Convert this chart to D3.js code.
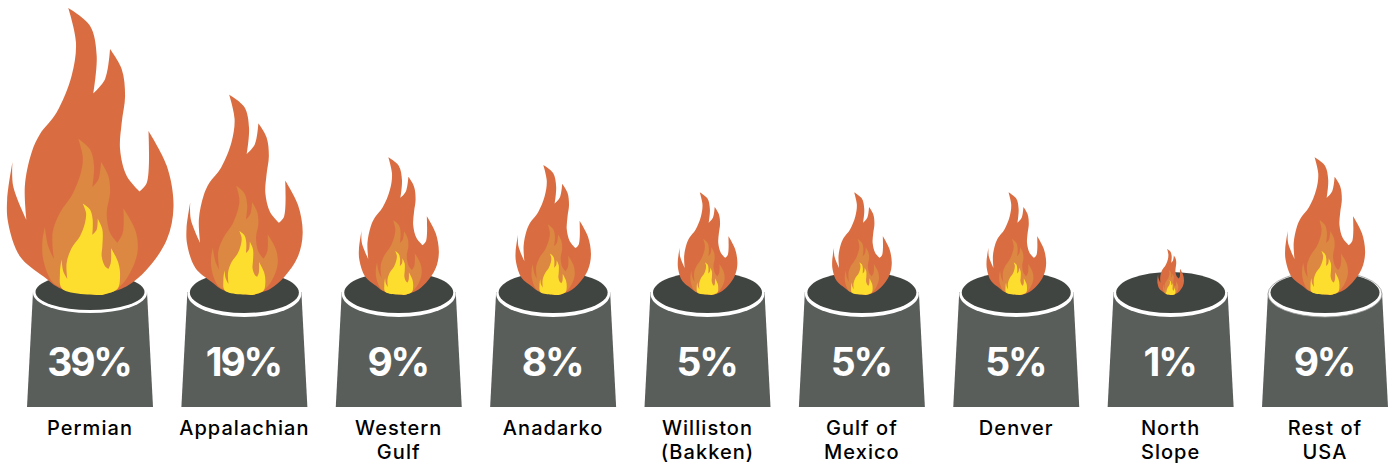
<!DOCTYPE html>
<html><head><meta charset="utf-8">
<script src="https://cdn.jsdelivr.net/npm/d3@7"></script>
<style>html,body{margin:0;padding:0;background:#fff}svg{display:block}</style></head>
<body><div id="c"></div>
<script>
const categories=[["Permian"],["Appalachian"],["Western","Gulf"],["Anadarko"],["Williston","(Bakken)"],["Gulf of","Mexico"],["Denver"],["North","Slope"],["Rest of","USA"]];
const shares=[39,19,9,8,5,5,5,1,9];

// Flame glyphs: smooth runs between cusps, in glyph units (base tip near 0,0; height 859)
const outerRuns=[
 [[35,0],[-85,-18],[-140,-56],[-210,-116],[-245,-216],[-248,-286],[-232,-398]],
 [[-232,-398],[-230,-326],[-190,-224]],
 [[-190,-224],[-195,-326],[-175,-426],[-150,-481],[-100,-546],[-55,-656],[-42,-756],[-65,-859]],
 [[-65,-859],[0,-806],[20,-716],[10,-604]],
 [[10,-604],[45,-646],[60,-736]],
 [[60,-736],[95,-676],[105,-596],[95,-516],[90,-436],[110,-356],[148,-310]],
 [[148,-310],[170,-336],[175,-491]],
 [[175,-491],[230,-386],[250,-266],[230,-166],[170,-76],[110,-26],[35,0]]];
const midRuns=[
 [[35,0],[-60,-16],[-110,-36],[-140,-106],[-142,-166],[-135,-203]],
 [[-135,-203],[-125,-146],[-108,-108]],
 [[-108,-108],[-112,-186],[-90,-246],[-50,-306],[-25,-376],[-22,-416],[-35,-468]],
 [[-35,-468],[0,-436],[12,-386],[7,-324]],
 [[7,-324],[25,-346],[33,-399]],
 [[33,-399],[55,-356],[60,-306],[50,-246],[60,-186],[82,-156]],
 [[82,-156],[98,-186],[100,-259]],
 [[100,-259],[135,-196],[143,-136],[125,-76],[90,-26],[35,0]]];
const coreRuns=[
 [[35,0],[-83,-18],[-90,-66],[-85,-106]],
 [[-85,-106],[-80,-71],[-68,-48]],
 [[-68,-48],[-70,-96],[-55,-141],[-30,-176],[-15,-216],[-12,-246],[-22,-274]],
 [[-22,-274],[0,-256],[8,-226],[7,-180]],
 [[7,-180],[20,-196],[23,-229]],
 [[23,-229],[37,-196],[37,-146],[35,-116],[45,-86],[55,-78]],
 [[55,-78],[62,-96],[63,-141]],
 [[63,-141],[85,-96],[90,-56],[82,-18],[35,0]]];
const GLYPH_H=859;

const W=1388,H=463;
const svg=d3.select("#c").append("svg").attr("width",W).attr("height",H);
const x=d3.scalePoint().domain(d3.range(categories.length)).range([90,1325]);
const flameH=d3.scaleSqrt().domain([0,39]).range([0,287]);
const seg=d3.line().curve(d3.curveCatmullRom.alpha(0.5));
const glyph=runs=>runs.map((r,i)=>{const s=seg(r);return i?s.replace(/^M[^C]*/,""):s}).join("")+"Z";
const FLOOR=407,RIM=292,TIPY=295;
const g=svg.selectAll("g.b").data(shares).join("g").attr("class","b").attr("transform",(d,i)=>`translate(${x(i)},0)`);
g.append("path").attr("d",`M-57,${RIM}L-63,${FLOOR}L63,${FLOOR}L57,${RIM}Z`).attr("fill","#595e5b");
g.append("ellipse").attr("cx",0).attr("cy",(d,i)=>i===0?RIM+1:RIM+2).attr("rx",57).attr("ry",(d,i)=>i===0?20:23)
 .attr("fill","#fff").attr("stroke",(d,i)=>i===8?"#9a9d9b":"none").attr("stroke-width",0.8);
g.append("ellipse").attr("cx",0).attr("cy",(d,i)=>i===0?RIM:RIM+0.5).attr("rx",54.5).attr("ry",(d,i)=>i===0?18:20.5).attr("fill","#414541");
const f=g.append("g").attr("transform",d=>`translate(0,${TIPY}) scale(${flameH(d)/GLYPH_H})`);
f.append("path").attr("d",glyph(outerRuns)).attr("fill","#d96d41");
f.append("path").attr("d",glyph(midRuns)).attr("fill","#dc8742");
f.append("path").attr("d",glyph(coreRuns)).attr("fill","#fddd2e");
g.append("text").attr("y",376).attr("x",-1).attr("text-anchor","middle").attr("fill","#fff")
 .style("font","700 39px Inter,sans-serif").style("letter-spacing","-2.2px").text(d=>d+"%");
g.each(function(d,i){
 const t=d3.select(this).append("text").attr("text-anchor","middle").attr("fill","#000")
  .style("font","500 20px Inter,sans-serif").style("letter-spacing","1.05px");
 categories[i].forEach((l,j)=>t.append("tspan").attr("x",0).attr("y",435+j*24).text(l));
});
</script></body></html>
